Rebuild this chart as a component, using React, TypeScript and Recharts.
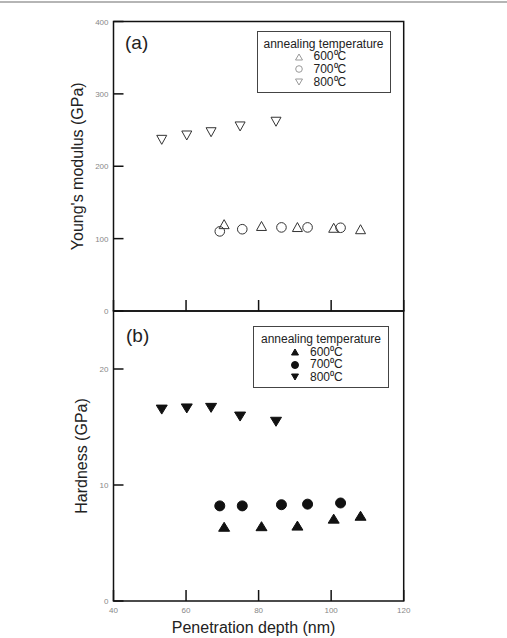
import { ScatterChart, Scatter, XAxis, YAxis, ReferenceArea, Legend } from 'recharts'

const FONT = '"Liberation Sans", Arial, Helvetica, sans-serif'

const seriesNames = ['600⁰C', '700⁰C', '800⁰C']
const depth600 = [70.5, 80.8, 90.7, 100.7, 108.1]
const depth700 = [69.3, 75.5, 86.3, 93.5, 102.6]
const depth800 = [53.3, 60.2, 66.9, 74.9, 84.8]
const modulus600 = [120, 117.5, 116, 115, 113]
const modulus700 = [110, 113, 115.5, 115.5, 115]
const modulus800 = [236.5, 242.5, 247, 255, 261.5]
const hardness600 = [6.4, 6.45, 6.5, 7.1, 7.35]
const hardness700 = [8.2, 8.2, 8.3, 8.35, 8.45]
const hardness800 = [16.5, 16.6, 16.65, 15.9, 15.45]

const depthTicks = [40, 60, 80, 100, 120]
const modulusTicks = [0, 100, 200, 300, 400]
const hardnessTicks = [0, 10, 20]

const zip = (xs: number[], ys: number[]) => xs.map((x, i) => ({ depth: x, value: ys[i] }))

const tri = (up: boolean, filled: boolean, w: number, h: number, color: string) => (p: any) => {
  const { cx, cy } = p
  const t = up ? cy - h / 2 : cy + h / 2
  const b = up ? cy + h / 2 : cy - h / 2
  return (
    <polygon
      points={`${cx},${t} ${cx + w / 2},${b} ${cx - w / 2},${b}`}
      fill={filled ? color : 'none'}
      stroke={color}
      strokeWidth={1}
    />
  )
}
const circ = (filled: boolean, r: number, color: string) => (p: any) => (
  <circle cx={p.cx} cy={p.cy} r={r} fill={filled ? color : 'none'} stroke={color} strokeWidth={1} />
)

const LeftTick = (p: any) => (
  <g>
    <line x1={p.x} x2={p.x + 10} y1={p.y} y2={p.y} stroke="#111" strokeWidth={1.5} />
    <text x={p.x - 5} y={p.y} dy={3} textAnchor="end" fontSize={8} fill="#888" fontFamily={FONT}>
      {p.payload.value}
    </text>
  </g>
)
const UpTick = (labels: boolean) => (p: any) => (
  <g>
    <line x1={p.x} x2={p.x} y1={p.y} y2={p.y - 11} stroke="#111" strokeWidth={1.5} />
    {labels && (
      <text x={p.x} y={p.y + 12} textAnchor="middle" fontSize={8} fill="#888" fontFamily={FONT}>
        {p.payload.value}
      </text>
    )}
  </g>
)
const DownTick = (p: any) => (
  <line x1={p.x} x2={p.x} y1={p.y} y2={p.y + 11} stroke="#111" strokeWidth={1.5} />
)

const makeLegend = (markers: ((p: any) => any)[], w: number, h: number) => () => (
  <div
    style={{
      width: w,
      height: h,
      boxSizing: 'border-box',
      border: '1px solid #444',
      background: '#fff',
      fontFamily: FONT,
      fontSize: 12,
      color: '#222',
      paddingTop: 6,
      lineHeight: '12.7px',
    }}
  >
    <div style={{ textAlign: 'center' }}>annealing temperature</div>
    {seriesNames.map((name, i) => (
      <div key={name} style={{ display: 'flex', alignItems: 'center', height: 12.7 }}>
        <svg width={12} height={12} style={{ marginLeft: 35 }}>
          {markers[i]({ cx: 6, cy: 6 })}
        </svg>
        <span style={{ marginLeft: 9 }}>{name}</span>
      </div>
    ))}
  </div>
)

const topLegend = makeLegend(
  [tri(true, false, 7, 6, '#999'), circ(false, 3.3, '#999'), tri(false, false, 7, 6, '#999')],
  134,
  62
)
const bottomLegend = makeLegend(
  [tri(true, true, 7, 6, '#111'), circ(true, 3.5, '#111'), tri(false, true, 7, 6, '#111')],
  136,
  62
)

const labelStyle = { fontFamily: FONT, fontSize: 16, fill: '#222', textAnchor: 'middle' as const }

export default function App() {
  return (
    <div style={{ position: 'absolute', left: 0, top: 0, width: 507, height: 638, background: '#fff', fontFamily: FONT }}>
      <div style={{ position: 'absolute', left: 0, top: 1, width: 507, height: 2, background: '#b5b5b5' }} />

      <div style={{ position: 'absolute', left: 0, top: 0 }}>
        <ScatterChart width={507} height={322} margin={{ top: 21.5, right: 103.3, bottom: 0, left: 0 }}>
          <XAxis
            type="number"
            dataKey="depth"
            domain={[40, 120]}
            ticks={depthTicks}
            interval={0}
            height={11}
            axisLine={false}
            tickLine={false}
            tickSize={0}
            tickMargin={0}
            tick={UpTick(false)}
          />
          <YAxis
            type="number"
            dataKey="value"
            domain={[0, 400]}
            ticks={modulusTicks}
            interval={0}
            width={113.5}
            axisLine={false}
            tickLine={false}
            tickSize={0}
            tickMargin={0}
            tick={LeftTick}
            label={{ value: "Young's modulus (GPa)", angle: -90, position: 'insideLeft', offset: 77.5, style: labelStyle }}
          />
          <ReferenceArea x1={40} x2={120} y1={0} y2={400} fill="none" stroke="#111" strokeWidth={1.5} />
          <Scatter name={seriesNames[0]} data={zip(depth600, modulus600)} shape={tri(true, false, 10, 9, '#333')} isAnimationActive={false} />
          <Scatter name={seriesNames[1]} data={zip(depth700, modulus700)} shape={circ(false, 4.8, '#333')} isAnimationActive={false} />
          <Scatter name={seriesNames[2]} data={zip(depth800, modulus800)} shape={tri(false, false, 10, 9, '#333')} isAnimationActive={false} />
          <Legend
            layout="vertical"
            align="center"
            verticalAlign="middle"
            content={topLegend}
            wrapperStyle={{ position: 'absolute', left: 256.5, top: 30.5, width: 134, height: 62 }}
          />
        </ScatterChart>
      </div>

      <div style={{ position: 'absolute', left: 0, top: 300 }}>
        <ScatterChart width={507} height={338} margin={{ top: 11, right: 103.3, bottom: 0, left: 0 }}>
          <XAxis
            type="number"
            dataKey="depth"
            domain={[40, 120]}
            ticks={depthTicks}
            interval={0}
            height={37}
            axisLine={false}
            tickLine={false}
            tickSize={0}
            tickMargin={0}
            tick={UpTick(true)}
            label={{ value: 'Penetration depth (nm)', position: 'insideBottom', offset: 5, dx: -5, style: labelStyle }}
          />
          <XAxis
            xAxisId="top"
            orientation="top"
            type="number"
            domain={[40, 120]}
            ticks={depthTicks}
            interval={0}
            height={0}
            axisLine={false}
            tickLine={false}
            tickSize={0}
            tickMargin={0}
            tick={DownTick}
          />
          <YAxis
            type="number"
            dataKey="value"
            domain={[0, 25]}
            ticks={hardnessTicks}
            interval={0}
            width={113.5}
            axisLine={false}
            tickLine={false}
            tickSize={0}
            tickMargin={0}
            tick={LeftTick}
            label={{ value: 'Hardness (GPa)', angle: -90, position: 'insideLeft', offset: 81.5, style: labelStyle }}
          />
          <ReferenceArea x1={40} x2={120} y1={0} y2={25} fill="none" stroke="#111" strokeWidth={1.5} />
          <Scatter name={seriesNames[0]} data={zip(depth600, hardness600)} shape={tri(true, true, 11, 9, '#111')} isAnimationActive={false} />
          <Scatter name={seriesNames[1]} data={zip(depth700, hardness700)} shape={circ(true, 5, '#111')} isAnimationActive={false} />
          <Scatter name={seriesNames[2]} data={zip(depth800, hardness800)} shape={tri(false, true, 11, 9, '#111')} isAnimationActive={false} />
          <Legend
            layout="vertical"
            align="center"
            verticalAlign="middle"
            content={bottomLegend}
            wrapperStyle={{ position: 'absolute', left: 253, top: 26, width: 136, height: 62 }}
          />
        </ScatterChart>
      </div>

      <div style={{ position: 'absolute', left: 125, top: 32, fontSize: 19, lineHeight: '22px', color: '#222' }}>(a)</div>
      <div style={{ position: 'absolute', left: 126, top: 324.5, fontSize: 19, lineHeight: '22px', color: '#222' }}>(b)</div>
    </div>
  )
}
